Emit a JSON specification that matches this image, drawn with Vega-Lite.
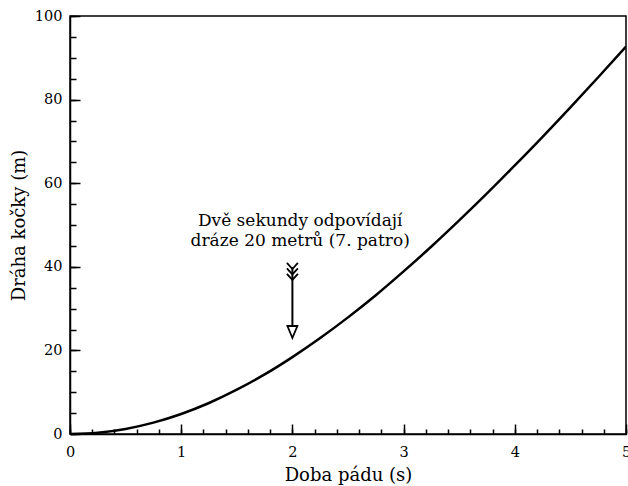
{
  "$schema": "https://vega.github.io/schema/vega-lite/v6.json",
  "width": 556,
  "height": 418,
  "autosize": {"type": "none"},
  "padding": {"left": 70, "top": 16, "right": 2, "bottom": 52},
  "background": "white",
  "config": {
    "view": {"stroke": "black", "strokeWidth": 1.5},
    "axis": {
      "domainColor": "black",
      "domainWidth": 1.5,
      "tickColor": "black",
      "tickWidth": 1.5,
      "labelFont": "DejaVu Serif",
      "labelFontSize": 14.5,
      "labelColor": "black",
      "labelFlush": false,
      "titleFont": "DejaVu Serif",
      "titleFontSize": 18,
      "titleFontWeight": "normal",
      "titleColor": "black",
      "grid": false
    }
  },
  "datasets": {
    "curve": [
      {"t": 0, "d": 0}, {"t": 0.25, "d": 0.30}, {"t": 0.5, "d": 1.21}, {"t": 0.75, "d": 2.72},
      {"t": 1, "d": 4.79}, {"t": 1.25, "d": 7.42}, {"t": 1.5, "d": 10.6}, {"t": 1.75, "d": 14.25},
      {"t": 2, "d": 18.4}, {"t": 2.25, "d": 22.95}, {"t": 2.5, "d": 27.9}, {"t": 2.75, "d": 33.2},
      {"t": 3, "d": 38.9}, {"t": 3.25, "d": 44.85}, {"t": 3.5, "d": 51.1}, {"t": 3.75, "d": 57.55},
      {"t": 4, "d": 64.25}, {"t": 4.25, "d": 71.1}, {"t": 4.5, "d": 78.15}, {"t": 4.75, "d": 85.35},
      {"t": 5, "d": 92.7}
    ],
    "shaft": [{"t": 2, "top": 39.9, "bottom": 26}],
    "chevrons": [{"t": 2, "d": 40.2}, {"t": 2, "d": 38.9}, {"t": 2, "d": 37.6}],
    "head": [{"t": 2, "d": 24.4}],
    "label": [{"t": 2.07, "d": 49.8, "text": ["Dvě sekundy odpovídají", "dráze 20 metrů (7. patro)"]}]
  },
  "resolve": {"axis": {"x": "independent", "y": "independent"}},
  "layer": [
    {
      "data": {"name": "curve"},
      "mark": {"type": "line", "color": "black", "strokeWidth": 2.5, "interpolate": "monotone", "clip": true},
      "encoding": {
        "x": {"field": "t", "type": "quantitative", "scale": {"domain": [0, 5], "nice": false},
          "axis": {"orient": "bottom", "values": [0, 1, 2, 3, 4, 5], "tickSize": -10, "labelPadding": 21, "title": "Doba pádu (s)", "titleBaseline": "alphabetic", "titleY": 46}},
        "y": {"field": "d", "type": "quantitative", "scale": {"domain": [0, 100], "nice": false},
          "axis": {"orient": "left", "values": [0, 20, 40, 60, 80, 100], "tickSize": -10, "labelPadding": 18, "title": "Dráha kočky (m)", "titleX": -42}}
      }
    },
    {
      "data": {"name": "shaft"},
      "mark": {"type": "rule", "color": "black", "strokeWidth": 2},
      "encoding": {
        "x": {"field": "t", "type": "quantitative", "scale": {"domain": [0, 5], "nice": false},
          "axis": {"orient": "bottom", "values": [0, 0.2, 0.4, 0.6, 0.8, 1, 1.2, 1.4, 1.6, 1.8, 2, 2.2, 2.4, 2.6, 2.8, 3, 3.2, 3.4, 3.6, 3.8, 4, 4.2, 4.4, 4.6, 4.8, 5], "tickSize": -5, "labels": false, "domain": false, "title": null}},
        "y": {"field": "top", "type": "quantitative", "scale": {"domain": [0, 100], "nice": false},
          "axis": {"orient": "left", "values": [0, 5, 10, 15, 20, 25, 30, 35, 40, 45, 50, 55, 60, 65, 70, 75, 80, 85, 90, 95, 100], "tickSize": -6, "labels": false, "domain": false, "title": null}},
        "y2": {"field": "bottom"}
      }
    },
    {
      "data": {"name": "chevrons"},
      "mark": {"type": "point", "shape": "M-1,-0.55L0,0.55L1,-0.55", "size": 121, "filled": false, "stroke": "black", "strokeWidth": 1.8, "opacity": 1},
      "encoding": {
        "x": {"field": "t", "type": "quantitative", "scale": {"domain": [0, 5], "nice": false}, "axis": null},
        "y": {"field": "d", "type": "quantitative", "scale": {"domain": [0, 100], "nice": false}, "axis": null}
      }
    },
    {
      "data": {"name": "head"},
      "mark": {"type": "point", "shape": "M-0.83,-1L0.83,-1L0,1Z", "size": 144, "filled": true, "fill": "white", "stroke": "black", "strokeWidth": 1.8, "opacity": 1},
      "encoding": {
        "x": {"field": "t", "type": "quantitative", "scale": {"domain": [0, 5], "nice": false}, "axis": null},
        "y": {"field": "d", "type": "quantitative", "scale": {"domain": [0, 100], "nice": false}, "axis": null}
      }
    },
    {
      "data": {"name": "label"},
      "mark": {"type": "text", "font": "DejaVu Serif", "fontSize": 17, "lineHeight": 20, "align": "center", "baseline": "alphabetic", "color": "black"},
      "encoding": {
        "x": {"field": "t", "type": "quantitative", "scale": {"domain": [0, 5], "nice": false}, "axis": null},
        "y": {"field": "d", "type": "quantitative", "scale": {"domain": [0, 100], "nice": false}, "axis": null},
        "text": {"field": "text"}
      }
    }
  ]
}
